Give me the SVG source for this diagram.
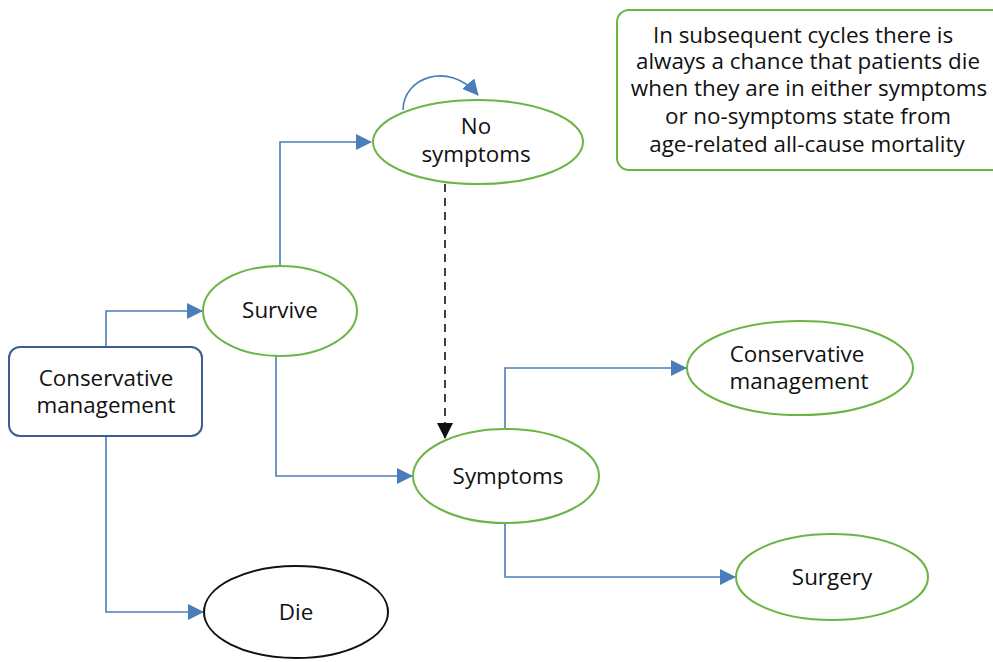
<svg xmlns="http://www.w3.org/2000/svg" width="993" height="662" viewBox="0 0 993 662">
<style>
.t{font-family:"Open Sans","Noto Sans","Liberation Sans",sans-serif;font-size:22.4px;fill:#111;text-anchor:middle}
.g{fill:#fff;stroke:#6cb545;stroke-width:2}
.c{fill:none;stroke:#4a7ebb;stroke-width:1.6}
</style>
<defs>
<marker id="ab" markerWidth="16" markerHeight="16" refX="15" refY="8" orient="auto" markerUnits="userSpaceOnUse"><path d="M0,0 L16,8 L0,16 Z" fill="#4a7ebb"/></marker>
<marker id="ak" markerWidth="16" markerHeight="16" refX="15" refY="8" orient="auto" markerUnits="userSpaceOnUse"><path d="M0,0 L16,8 L0,16 Z" fill="#111"/></marker>
</defs>
<rect width="993" height="662" fill="#fff"/>
<g id="connectors">
<path class="c" d="M106,347 V311 H202" marker-end="url(#ab)"/>
<path class="c" d="M106,436 V612 H203" marker-end="url(#ab)"/>
<path class="c" d="M280,266 V142 H371" marker-end="url(#ab)"/>
<path class="c" d="M276,356 V476 H412" marker-end="url(#ab)"/>
<path class="c" d="M505,429 V368 H686" marker-end="url(#ab)"/>
<path class="c" d="M505,523 V577 H735" marker-end="url(#ab)"/>
<path class="c" d="M403,110 C403,78 448,60 478,95" marker-end="url(#ab)"/>
<path d="M445,184 V438" fill="none" stroke="#111" stroke-width="1.6" stroke-dasharray="8,6" marker-end="url(#ak)"/>
</g>
<g id="cm-start">
<rect x="9" y="347" width="193" height="89" rx="11" fill="#fff" stroke="#3b5e8c" stroke-width="2"/>
<text class="t" x="106" y="386">Conservative</text>
<text class="t" x="106" y="413">management</text>
</g>
<g id="survive">
<ellipse class="g" cx="280" cy="311" rx="77" ry="45"/>
<text class="t" x="280" y="318">Survive</text>
</g>
<g id="no-symptoms">
<ellipse class="g" cx="478" cy="142" rx="105" ry="42"/>
<text class="t" x="476" y="134">No</text>
<text class="t" x="476" y="162">symptoms</text>
</g>
<g id="symptoms">
<ellipse class="g" cx="506" cy="476" rx="93" ry="47"/>
<text class="t" x="508" y="484">Symptoms</text>
</g>
<g id="cm-end">
<ellipse class="g" cx="800" cy="368" rx="113" ry="47"/>
<text class="t" x="797" y="362">Conservative</text>
<text class="t" x="799" y="389">management</text>
</g>
<g id="surgery">
<ellipse class="g" cx="832" cy="577" rx="96" ry="43"/>
<text class="t" x="832" y="585">Surgery</text>
</g>
<g id="die">
<ellipse cx="296" cy="612" rx="92" ry="46" fill="#fff" stroke="#111" stroke-width="2"/>
<text class="t" x="296" y="620">Die</text>
</g>
<g id="note">
<rect x="617" y="10" width="390" height="160" rx="12" fill="#fff" stroke="#6cb545" stroke-width="2"/>
<text class="t" x="803" y="43">In subsequent cycles there is</text>
<text class="t" x="808" y="69">always a chance that patients die</text>
<text class="t" x="809" y="96">when they are in either symptoms</text>
<text class="t" x="808" y="124">or no-symptoms state from</text>
<text class="t" x="807" y="152">age-related all-cause mortality</text>
</g>
</svg>
